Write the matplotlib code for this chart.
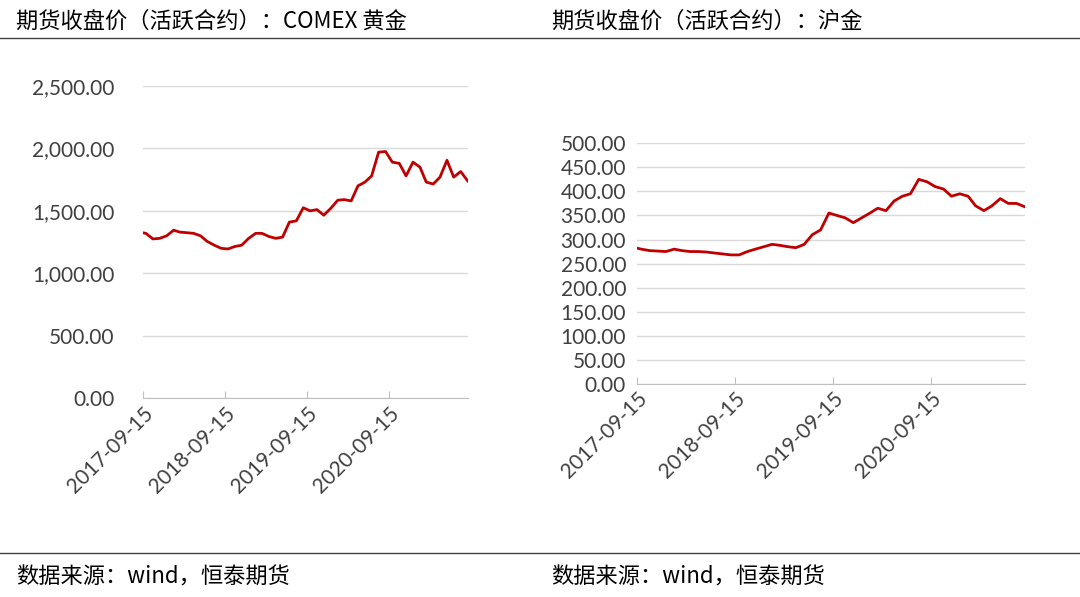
import matplotlib.pyplot as plt
import matplotlib.dates as mdates
import matplotlib.lines as mlines
import pandas as pd
from matplotlib.ticker import FuncFormatter

plt.rcParams['font.family'] = ['Lato', 'Noto Sans CJK SC', 'DejaVu Sans']

# month-end readings
months = pd.date_range("2017-09-30", "2021-08-31", freq="ME")
comex = [1320, 1275, 1280, 1300, 1345, 1330, 1325, 1320, 1300, 1255, 1225, 1200,
         1195, 1215, 1225, 1280, 1320, 1320, 1295, 1280, 1290, 1410, 1420, 1525,
         1500, 1510, 1465, 1520, 1585, 1590, 1580, 1700, 1730, 1780, 1970, 1975,
         1890, 1880, 1780, 1890, 1850, 1730, 1715, 1770, 1905, 1770, 1815, 1740]
shfe = [280, 277, 276, 275, 280, 277, 275, 275, 274, 272, 270, 268,
        268, 275, 280, 285, 290, 288, 285, 283, 290, 310, 320, 355,
        350, 345, 335, 345, 355, 365, 360, 380, 390, 395, 425, 420,
        410, 405, 390, 395, 390, 370, 360, 370, 385, 375, 375, 368]
start = pd.Timestamp("2017-09-15")
xticks = pd.to_datetime(["2017-09-15", "2018-09-15", "2019-09-15", "2020-09-15"])
x = [start] + list(months)
comex = [1325] + comex
shfe = [282] + shfe

fig = plt.figure(figsize=(10.8, 5.97), dpi=100)
red = "#c00000"
fmt = FuncFormatter(lambda v, p: f"{v:,.2f}")


def style(ax, ymax, step):
    ax.plot(x, ax.data, color=red, lw=2)
    ax.set_ylim(0, ymax)
    ax.set_yticks(range(0, ymax + 1, step))
    ax.yaxis.set_major_formatter(fmt)
    ax.set_xlim(start, pd.Timestamp("2021-08-31"))
    ax.set_xticks(xticks)
    ax.xaxis.set_major_formatter(mdates.DateFormatter("%Y-%m-%d"))
    ax.grid(axis="y", color="#d9d9d9", lw=1)
    for s in ["top", "right", "left"]:
        ax.spines[s].set_visible(False)
    ax.spines["bottom"].set_color("#bfbfbf")
    ax.tick_params(axis="y", length=0, labelsize=15, colors="#404040", pad=20)
    ax.tick_params(axis="x", labelsize=15, colors="#404040", color="#bfbfbf",
                   direction="in", length=5)
    for lab in ax.get_xticklabels():
        lab.set_rotation(45)
        lab.set_ha("right")
        lab.set_rotation_mode("anchor")
    ax.set_axisbelow(True)


ax1 = fig.add_axes([0.132, 0.333, 0.301, 0.523])
ax1.data = comex
style(ax1, 2500, 500)
ax2 = fig.add_axes([0.590, 0.357, 0.359, 0.403])
ax2.data = shfe
style(ax2, 500, 50)
ax2.tick_params(axis="y", pad=8)

cjk = ['Noto Sans CJK SC', 'DejaVu Sans']
fig.text(0.015, 0.965, "期货收盘价（活跃合约）：COMEX 黄金", fontsize=16, family=cjk, va="center")
fig.text(0.51, 0.965, "期货收盘价（活跃合约）：沪金", fontsize=16, family=cjk, va="center")
fig.text(0.015, 0.033, "数据来源：wind，恒泰期货", fontsize=16, family=cjk, va="center")
fig.text(0.51, 0.033, "数据来源：wind，恒泰期货", fontsize=16, family=cjk, va="center")
for y in [0.936, 0.074]:
    fig.add_artist(mlines.Line2D([0, 1], [y, y], color="#404040", lw=1, transform=fig.transFigure))

fig.savefig("out.png", dpi=100)
